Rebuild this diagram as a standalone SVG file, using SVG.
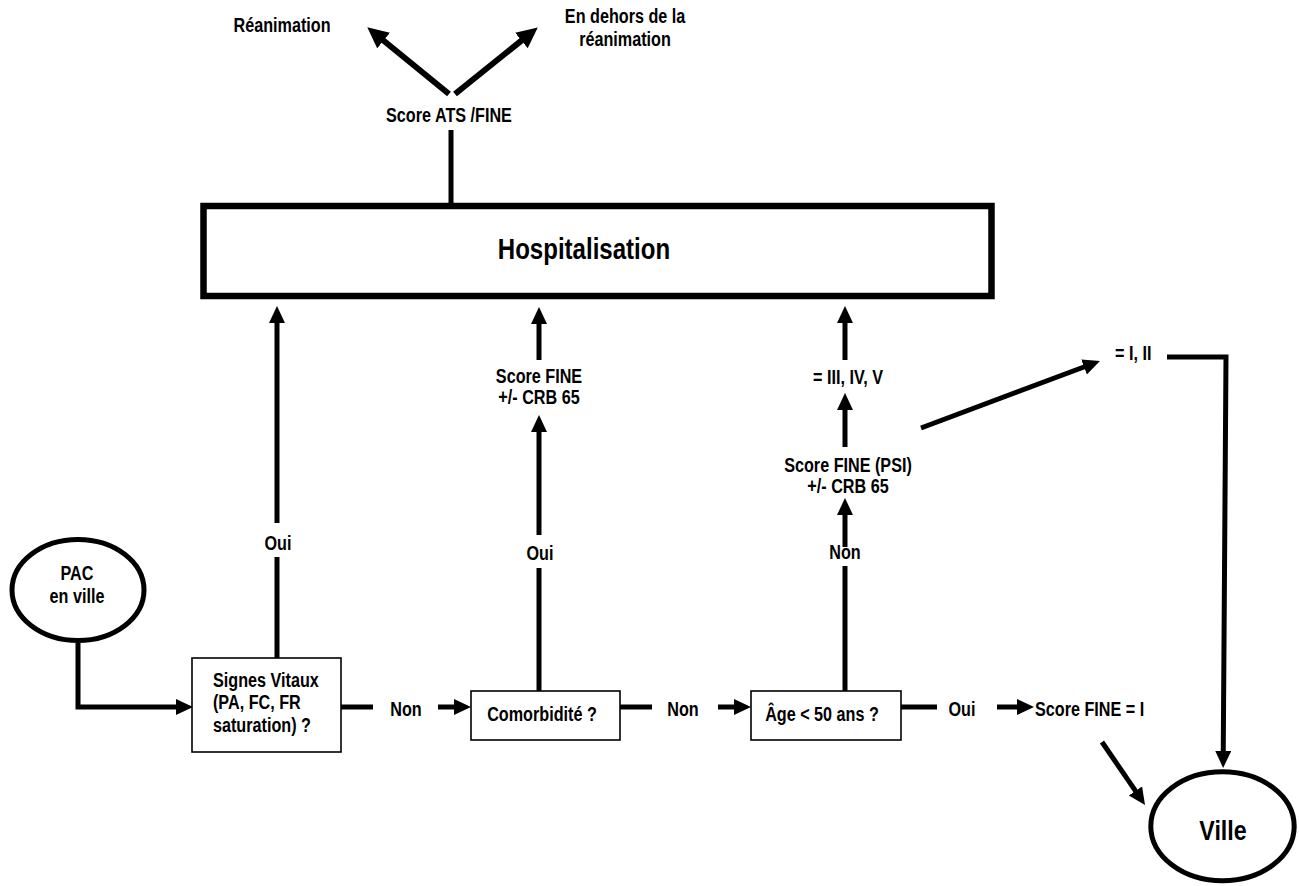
<svg xmlns="http://www.w3.org/2000/svg" width="1299" height="886" viewBox="0 0 1299 886">
<defs>
<style>
.t{font-family:'Liberation Sans Narrow','Liberation Sans',Arial,sans-serif;font-weight:bold;font-size:19.5px;fill:#000;text-anchor:middle;transform:scaleX(0.83);transform-box:fill-box;transform-origin:center}
.s{text-anchor:start;transform-origin:left center}
.box{fill:#fff;stroke:#000;stroke-width:1.6}
.oval{fill:#fff;stroke:#000;stroke-width:5}
.c{fill:none;stroke:#000;stroke-width:5}
.a{fill:none;stroke:#000;stroke-width:5;marker-end:url(#ah)}
.aL{fill:none;stroke:#000;stroke-width:6;marker-end:url(#ahL)}
</style>
<marker id="ah" markerUnits="userSpaceOnUse" markerWidth="20" markerHeight="20" refX="7" refY="8" orient="auto">
<path d="M0,0 L17,8 L0,16 z" fill="#000"/>
</marker>
<marker id="ahL" markerUnits="userSpaceOnUse" markerWidth="24" markerHeight="24" refX="10" refY="10" orient="auto">
<path d="M0,0 L21,10 L0,20 z" fill="#000"/>
</marker>
</defs>
<rect width="1299" height="886" fill="#fff"/>

<g id="connectors">
<path class="c" d="M451,206 V130"/>
<path class="aL" d="M449,94 L375.8,34.3"/>
<path class="aL" d="M455,94 L529.2,34.3"/>
<path class="a" d="M78,643 V707 H183"/>
<path class="c" d="M341,707 H373"/>
<path class="a" d="M438,707 H461"/>
<path class="c" d="M620,707 H652"/>
<path class="a" d="M718,707 H741"/>
<path class="c" d="M901,707 H937"/>
<path class="a" d="M997,707 H1024"/>
<path class="a" d="M1102,742 L1139.4,796.7"/>
<path class="a" d="M1167,357 H1226 L1223.2,758"/>
<path class="a" d="M921,428 L1090.6,364.5"/>
<path class="c" d="M277,658 V557"/>
<path class="a" d="M277,523 V316"/>
<path class="c" d="M539,691 V568"/>
<path class="a" d="M539,535 V425"/>
<path class="a" d="M539,360 V317"/>
<path class="c" d="M845,691 V566"/>
<path class="a" d="M845,547 V508"/>
<path class="a" d="M845,447 V403"/>
<path class="a" d="M845,360 V316"/>
</g>

<g id="labels">
<text class="t" x="282" y="32">Réanimation</text>
<text class="t" x="625" y="23">En dehors de la</text>
<text class="t" x="625" y="46">réanimation</text>
<text class="t" x="449" y="122">Score ATS /FINE</text>
<text class="t" x="278" y="550">Oui</text>
<text class="t" x="540" y="560">Oui</text>
<text class="t" x="539" y="383">Score FINE</text>
<text class="t" x="539" y="404">+/- CRB 65</text>
<text class="t" x="845" y="559">Non</text>
<text class="t" x="848" y="472">Score FINE (PSI)</text>
<text class="t" x="848" y="493">+/- CRB 65</text>
<text class="t" x="848" y="384">= III, IV, V</text>
<text class="t s" x="1115" y="360">= I, II</text>
<text class="t" x="406" y="716">Non</text>
<text class="t" x="683" y="716">Non</text>
<text class="t" x="962" y="716">Oui</text>
<text class="t s" x="1035" y="716">Score FINE = I</text>
</g>

<g id="hospitalisation">
<rect x="203.5" y="206" width="788" height="90" fill="#fff" stroke="#000" stroke-width="6.5"/>
<text class="t" x="584" y="259" style="font-size:29px">Hospitalisation</text>
</g>

<g id="pac">
<ellipse class="oval" cx="78" cy="590" rx="66" ry="50.5"/>
<text class="t" x="77" y="580">PAC</text>
<text class="t" x="77" y="603">en ville</text>
</g>

<g id="signes">
<rect class="box" x="192" y="658" width="149" height="94"/>
<text class="t s" x="213" y="687">Signes Vitaux</text>
<text class="t s" x="213" y="709">(PA, FC, FR</text>
<text class="t s" x="213" y="732">saturation) ?</text>
</g>

<g id="comorbidite">
<rect class="box" x="471" y="691" width="149" height="49"/>
<text class="t" x="542" y="721">Comorbidité ?</text>
</g>

<g id="age">
<rect class="box" x="751" y="691" width="150" height="49"/>
<text class="t" x="822" y="721">Âge &lt; 50 ans ?</text>
</g>

<g id="ville">
<ellipse class="oval" cx="1222.5" cy="826.3" rx="71.7" ry="54.5"/>
<text class="t" x="1223" y="840" style="font-size:28px">Ville</text>
</g>
</svg>
